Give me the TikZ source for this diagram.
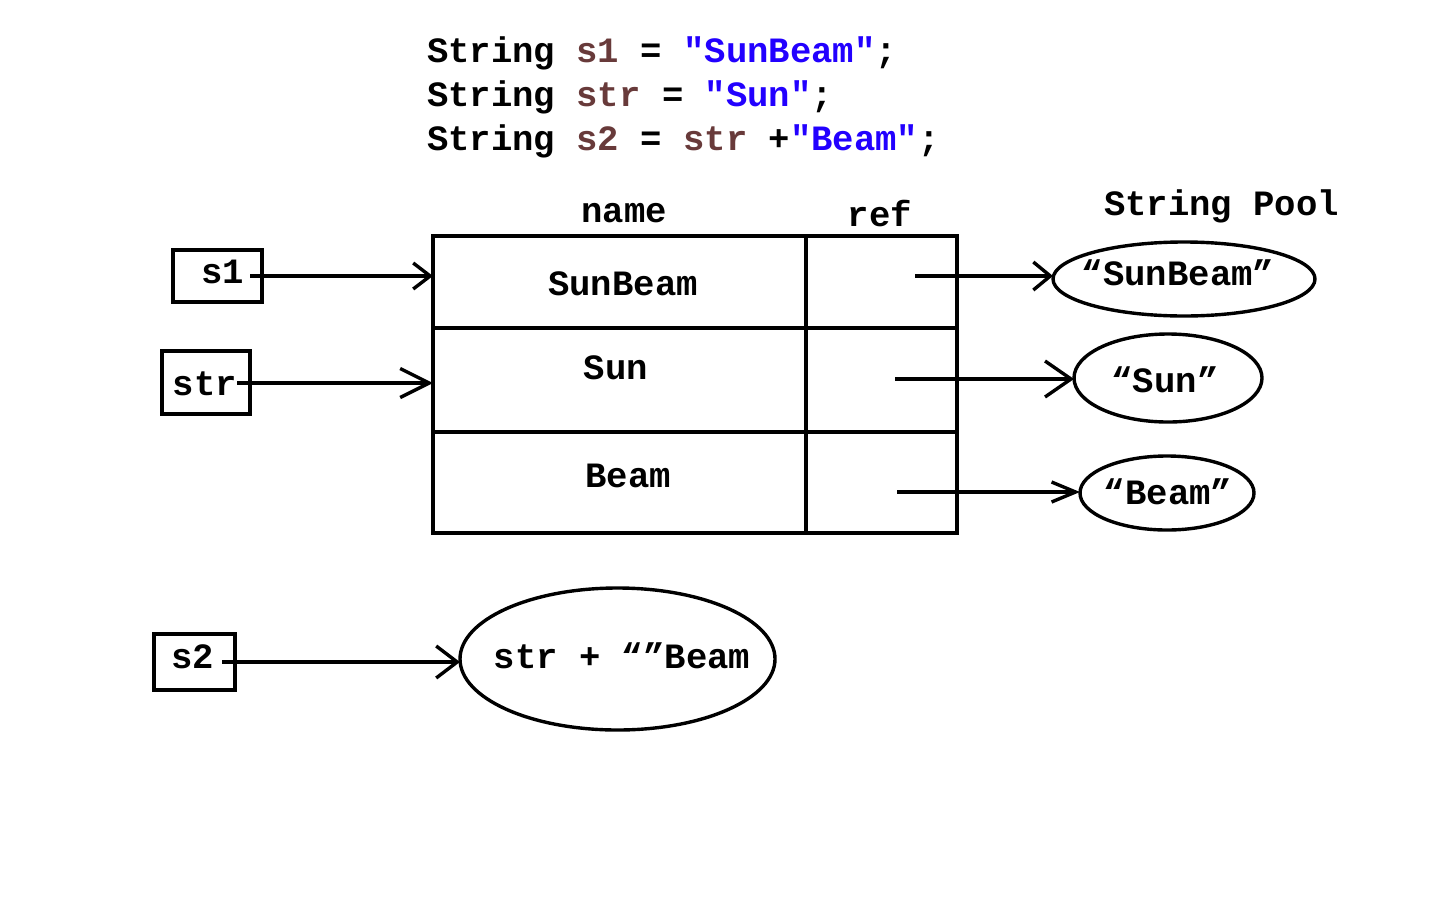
\documentclass[tikz,border=0pt]{standalone}
\usepackage{fontspec}
\usetikzlibrary{arrows.meta,shapes.geometric}
\newfontfamily\cour{Liberation Mono}
\definecolor{varbrown}{RGB}{104,58,58}
\definecolor{strblue}{RGB}{34,0,255}
\begin{document}
\begin{tikzpicture}[x=1pt,y=-1pt,
  txt/.style={inner sep=0pt, outer sep=0pt, font=\cour\bfseries\fontsize{35.6}{44}\selectfont},
  box/.style={draw, line width=3.4pt, inner sep=0pt, outer sep=0pt},
  cell/.style={draw, line width=3.4pt, inner sep=0pt, outer sep=0pt},
  pool/.style={draw, ellipse, line width=3.4pt, inner sep=0pt, outer sep=0pt},
  link/.style={line width=3.4pt},
]
\useasboundingbox (0,0) rectangle (1440,900);
% code lines
\node[txt, anchor=base west] (c1) at (427,62) {String \textcolor{varbrown}{s1} = \textcolor{strblue}{"SunBeam"};};
\node[txt, anchor=base west] (c2) at (427,106) {String \textcolor{varbrown}{str} = \textcolor{strblue}{"Sun"};};
\node[txt, anchor=base west] (c3) at (427,150) {String \textcolor{varbrown}{s2} = \textcolor{varbrown}{str} +\textcolor{strblue}{"Beam"};};
% headers
\node[txt, anchor=base] (hname) at (624,222) {name};
\node[txt, anchor=base] (href) at (880,226) {ref};
\node[txt, anchor=base west] (hpool) at (1104,215) {String Pool};
% table
\node[cell, minimum width=373, minimum height=92] (n1) at (619.5,282) {};
\node[cell, minimum width=151, minimum height=92] (r1) at (881.5,282) {};
\node[cell, minimum width=373, minimum height=104] (n2) at (619.5,380) {};
\node[cell, minimum width=151, minimum height=104] (r2) at (881.5,380) {};
\node[cell, minimum width=373, minimum height=101] (n3) at (619.5,482.5) {};
\node[cell, minimum width=151, minimum height=101] (r3) at (881.5,482.5) {};
\node[txt, anchor=base] (t1) at (623,295) {SunBeam};
\node[txt, anchor=base] (t2) at (616,379) {Sun};
\node[txt, anchor=base] (t3) at (628,487) {Beam};
% variable boxes
\node[box, minimum width=89, minimum height=52] (s1) at (217.5,276) {};
\node[txt, anchor=base] (s1t) at (223,283) {s1};
\node[box, minimum width=88, minimum height=63] (str) at (206,382.5) {};
\node[txt, anchor=base] (strt) at (205,395) {str};
\node[box, minimum width=81, minimum height=56] (s2) at (194.5,662) {};
\node[txt, anchor=base] (s2t) at (193,668) {s2};
% pool ellipses
\node[pool, minimum width=262, minimum height=74] (p1) at (1184,279) {};
\node[txt, anchor=base] (p1t) at (1178,285) {“SunBeam”};
\node[pool, minimum width=188, minimum height=88] (p2) at (1168,378) {};
\node[txt, anchor=base] (p2t) at (1165,392) {“Sun”};
\node[pool, minimum width=174, minimum height=74] (p3) at (1167,493) {};
\node[txt, anchor=base] (p3t) at (1168,504) {“Beam”};
\node[pool, minimum width=315, minimum height=142] (e2) at (617.5,659) {};
\node[txt, anchor=base] (e2t) at (622,668) {str + “”Beam};
% arrow start points
\coordinate (a1) at (250,276);
\coordinate (a2) at (237,383);
\coordinate (a3) at (222,662);
\coordinate (b1) at (915,276);
\coordinate (b2) at (895,379);
\coordinate (b3) at (897,492);
% arrows
\draw[link, -{Straight Barb[length=17pt,width=26pt]}] (a1) -- (a1 -| n1.west);
\draw[link, -{Straight Barb[length=29pt,width=29pt]}] (a2) -- (a2 -| n2.west);
\draw[link, -{Straight Barb[length=21pt,width=32pt]}] (a3) -- (a3 -| e2.west);
\draw[link, -{Straight Barb[length=17pt,width=28pt]}] (b1) -- (b1 -| p1.west);
\draw[link, -{Straight Barb[length=26pt,width=36pt]}] (b2) -- (b2 -| p2.west);
\draw[link, -{Straight Barb[length=24pt,width=20pt]}] (b3) -- (b3 -| p3.west);
\end{tikzpicture}
\end{document}
